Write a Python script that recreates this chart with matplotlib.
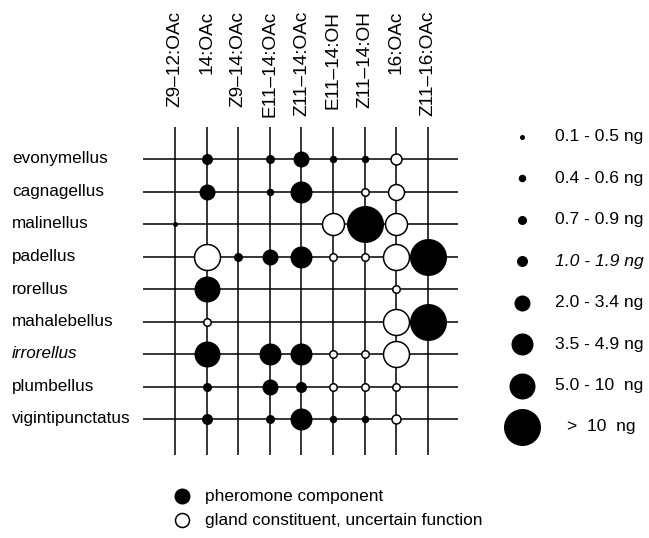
import matplotlib
matplotlib.use("Agg")
import matplotlib.pyplot as plt
from matplotlib.transforms import blended_transform_factory as btf

plt.rcParams['font.family'] = ['Liberation Sans', 'DejaVu Sans']

species = ["evonymellus", "cagnagellus", "malinellus", "padellus", "rorellus",
           "mahalebellus", "irrorellus", "plumbellus", "vigintipunctatus"]
compounds = ["Z9–12:OAc", "14:OAc", "Z9–14:OAc", "E11–14:OAc", "Z11–14:OAc",
             "E11–14:OH", "Z11–14:OH", "16:OAc", "Z11–16:OAc"]

# amount class (1..8, 0 = absent) of pheromone components (filled)
pheromone = [
    [0, 4, 0, 3, 5, 2, 2, 0, 0],
    [0, 5, 0, 2, 6, 0, 0, 0, 0],
    [1, 0, 0, 0, 0, 0, 8, 0, 0],
    [0, 0, 3, 5, 6, 0, 0, 0, 8],
    [0, 7, 0, 0, 0, 0, 0, 0, 0],
    [0, 0, 0, 0, 0, 0, 0, 0, 8],
    [0, 7, 0, 6, 6, 0, 0, 0, 0],
    [0, 3, 0, 5, 4, 0, 0, 0, 0],
    [0, 4, 0, 3, 6, 2, 2, 0, 0],
]
# amount class of gland constituents, uncertain function (open)
gland = [
    [0, 0, 0, 0, 0, 0, 0, 4, 0],
    [0, 0, 0, 0, 0, 0, 2, 5, 0],
    [0, 0, 0, 0, 0, 6, 0, 6, 0],
    [0, 7, 0, 0, 0, 2, 2, 7, 0],
    [0, 0, 0, 0, 0, 0, 0, 2, 0],
    [0, 2, 0, 0, 0, 0, 0, 7, 0],
    [0, 0, 0, 0, 0, 2, 2, 7, 0],
    [0, 0, 0, 0, 0, 2, 2, 2, 0],
    [0, 0, 0, 0, 0, 0, 0, 3, 0],
]
size_labels = ["0.1 - 0.5 ng", "0.4 - 0.6 ng", "0.7 - 0.9 ng", "1.0 - 1.9 ng",
               "2.0 - 3.4 ng", "3.5 - 4.9 ng", "5.0 - 10  ng", ">  10  ng"]
symbol_labels = ["pheromone component", "gland constituent, uncertain function"]

# style: marker diameter (pixels) for each class
diam_px = [0, 5, 7.5, 9, 11, 16, 22, 26, 37]
def ms(c):
    return diam_px[c] * 0.72

W, H = 649, 538
fig = plt.figure(figsize=(W / 100, H / 100), dpi=100)
fig.patch.set_facecolor('white')

# main grid axes: x -1..9 -> px 143.4..459.4 ; y -1..9 -> px 126.5..451.5
x0, x1, y0, y1 = 143.4, 459.4, 126.5, 451.5
ax = fig.add_axes([x0 / W, 1 - y1 / H, (x1 - x0) / W, (y1 - y0) / H])
ax.set_xlim(-1, len(compounds))
ax.set_ylim(len(species), -1)
ax.axis('off')

lw = 1.1
for j in range(len(compounds)):
    ax.plot([j, j], [-1, len(species) + 0.1], color='black', lw=lw, zorder=1,
            solid_capstyle='butt', clip_on=False)
for i in range(len(species)):
    ax.plot([-1, len(compounds) - 0.05], [i, i], color='black', lw=lw, zorder=1,
            solid_capstyle='butt')

for i in range(len(species)):
    for j in range(len(compounds)):
        c = pheromone[i][j]
        if c:
            ax.plot(j, i, 'o', ms=ms(c), mfc='black', mec='black', mew=0, zorder=3)
        c = gland[i][j]
        if c:
            ax.plot(j, i, 'o', ms=ms(c), mfc='white', mec='black', mew=1.1, zorder=3)

# column labels
tcol = btf(ax.transData, fig.transFigure)
for j, lab in enumerate(compounds):
    ax.text(j, 1 - 11 / H, lab, rotation=90, ha='center', va='top',
            fontsize=13.7, transform=tcol)

# row labels
trow = btf(fig.transFigure, ax.transData)
for i, lab in enumerate(species):
    ax.text(12 / W, i, lab, ha='left', va='center', fontsize=12.3,
            style='italic' if lab == 'irrorellus' else 'normal', transform=trow)

# size legend axes: rows 0..7 -> px 137..427
lx0, lx1 = 500, 649
ly0, ly1 = 137, 427
lax = fig.add_axes([lx0 / W, 1 - ly1 / H, (lx1 - lx0) / W, (ly1 - ly0) / H])
lax.set_xlim(lx0, lx1)
lax.set_ylim(len(size_labels) - 1, 0)
lax.axis('off')
for k, lab in enumerate(size_labels):
    lax.plot(522, k, 'o', ms=ms(k + 1), mfc='black', mec='black', mew=0, clip_on=False)
    xt = 567 if lab.startswith('>') else 555
    lax.text(xt, k, lab, ha='left', va='center', fontsize=12.6,
             style='italic' if lab.startswith('1.0') else 'normal')

# symbol legend
sax = fig.add_axes([0, 0, 1, 1])
sax.set_xlim(0, W)
sax.set_ylim(H, 0)
sax.axis('off')
sax.patch.set_alpha(0)
sax.plot(182, 496, 'o', ms=16 * 0.72, mfc='black', mec='black', mew=0)
sax.plot(182, 520, 'o', ms=14 * 0.72, mfc='white', mec='black', mew=1.1)
sax.text(205, 496, symbol_labels[0], ha='left', va='center', fontsize=12.4)
sax.text(205, 520, symbol_labels[1], ha='left', va='center', fontsize=12.4)

fig.savefig("out.png", dpi=100, facecolor='white')
